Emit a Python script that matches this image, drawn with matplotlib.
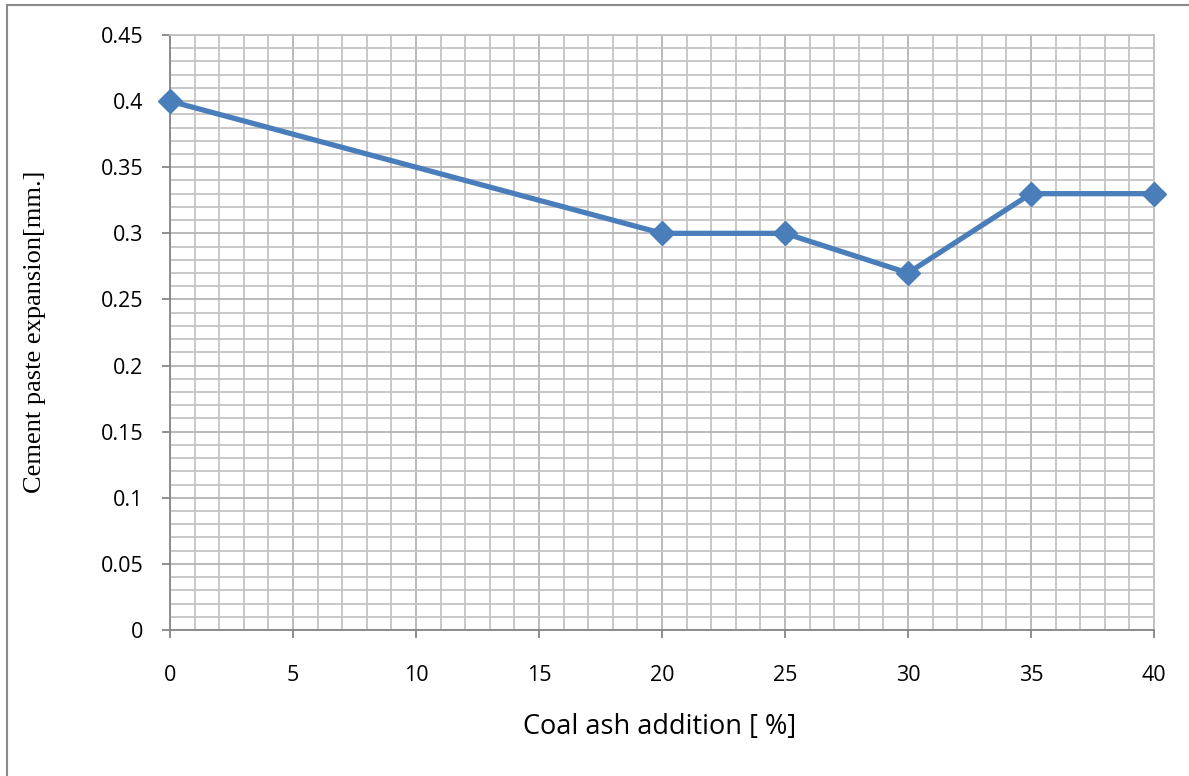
import matplotlib
matplotlib.use("Agg")
import matplotlib.pyplot as plt
from matplotlib.lines import Line2D
from matplotlib.ticker import MultipleLocator

coal_ash = [0, 20, 25, 30, 35, 40]
expansion = [0.40, 0.30, 0.30, 0.27, 0.33, 0.33]
x_label = "Coal ash addition [ %]"
y_label = "Cement paste expansion[mm.]"

W, H = 1189, 776
fig = plt.figure(figsize=(W/100, H/100), dpi=100)
ax = fig.add_axes([170/W, 1-630/H, (1154-170)/W, (630-35)/H])

ax.plot(coal_ash, expansion, color="#4A7EBB", lw=3.8, marker="D", ms=12,
        markerfacecolor="#4A7EBB", markeredgecolor="#4A7EBB", zorder=5, clip_on=False)

ax.set_xlim(0, 40)
ax.set_ylim(0, 0.45)
ax.xaxis.set_major_locator(MultipleLocator(5))
ax.xaxis.set_minor_locator(MultipleLocator(1))
ax.yaxis.set_major_locator(MultipleLocator(0.05))
ax.yaxis.set_minor_locator(MultipleLocator(0.01))
ax.yaxis.set_major_formatter(plt.FuncFormatter(lambda v, p: f"{v:.2f}".rstrip("0").rstrip(".") if v != 0 else "0"))

ax.grid(which="major", color="#b4b4b4", lw=1.3)
ax.grid(which="minor", color="#c4c4c4", lw=1.3)
ax.set_axisbelow(True)

for s in ["top", "right"]:
    ax.spines[s].set_color("#c0c0c0")
    ax.spines[s].set_linewidth(1.3)
for s in ["left", "bottom"]:
    ax.spines[s].set_color("#868686")
    ax.spines[s].set_linewidth(1.3)

ax.tick_params(which="major", direction="out", length=6, width=1.3, color="#868686",
               labelsize=15.5)
ax.tick_params(axis="y", which="major", pad=13)
ax.tick_params(axis="x", which="major", pad=19)
ax.tick_params(which="minor", length=0)
for lab in ax.get_xticklabels() + ax.get_yticklabels():
    lab.set_fontfamily("Open Sans")

fig.text(660/W, 1-727/H, x_label, ha="center", va="center", fontsize=19.5, family="Open Sans")
fig.text(35/W, 1-332/H, y_label, ha="center", va="center", rotation=90, fontsize=19,
         family="Liberation Serif")

fig.add_artist(Line2D([7/W, 7/W], [0, 1-5/H], color="#8a8a8a", lw=1.5))
fig.add_artist(Line2D([7/W, 1], [1-5/H, 1-5/H], color="#8a8a8a", lw=1.5))

fig.savefig("out.png", dpi=100)
